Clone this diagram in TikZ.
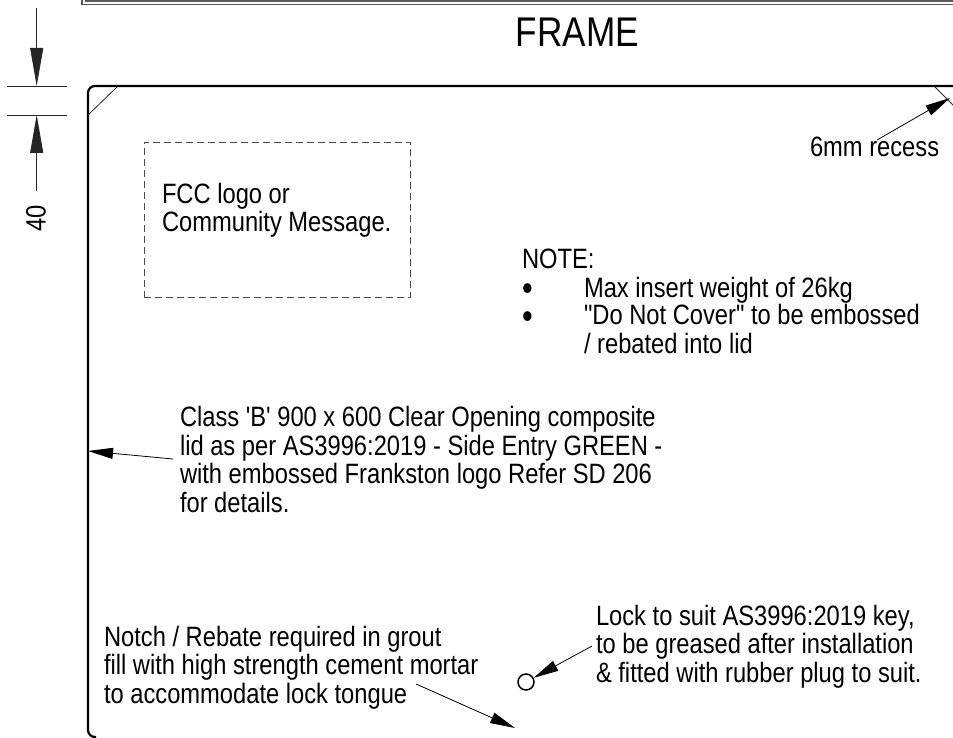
\documentclass[tikz,border=0pt]{standalone}
\usepackage{fontspec}
\setmainfont[FakeStretch=0.847,Ligatures=TeXOff]{Liberation Sans}
\usetikzlibrary{arrows.meta}
\tikzset{
  x=1pt,y=-1pt,
  lbl/.style={anchor=base west,inner sep=0pt,outer sep=0pt,align=left,font=\fontsize{28}{28.4}\selectfont,text=black},
  thick line/.style={line width=2.2pt,black},
  thin line/.style={line width=0.8pt,black!85},
  leader/.style={line width=0.8pt,black,-{Triangle[length=25pt,width=11pt]}},
  dimarrow/.style={line width=0.8pt,black!85,-{Triangle[length=38pt,width=13pt]}}
}
\begin{document}
\begin{tikzpicture}
\useasboundingbox (0,0) rectangle (953,738);
% top title block remnant
\draw[line width=1.3pt,black!65] (82,-5) -- (82,4.5) -- (960,4.5);
\draw[line width=1.3pt,black!65] (85.5,-5) -- (85.5,1) -- (960,1);
% frame
\draw[thick line,rounded corners=7pt] (960,86) -- (88,86) -- (88,737) -- (96,737);
\draw[thin line] (117,87) -- (88,115);
\draw[thin line] (935,87) -- (960,112);
% dimension
\coordinate (dimtopstart) at (36.7,8);
\coordinate (dimtoptip) at (36.7,86);
\coordinate (dimbotstart) at (36.7,191);
\coordinate (dimbottip) at (36.7,115);
\draw[thin line] (7,86) -- (67,86);
\draw[thin line] (7,115.5) -- (67,115.5);
\draw[dimarrow] (dimtopstart) -- (dimtoptip);
\draw[dimarrow] (dimbotstart) -- (dimbottip);
\node[lbl,anchor=center,rotate=90] (dimtext) at (36,218) {40};
% title
\node[anchor=base,inner sep=0pt,font=\fontsize{41.5}{44}\selectfont,text=black] (title) at (577.5,47) {FRAME};
% logo box
\node[draw=black!70,dashed,dash pattern=on 7pt off 4pt,line width=0.8pt,minimum width=266pt,minimum height=155pt,anchor=north west,inner sep=0pt] (logobox) at (144,142) {};
\node[lbl] (logotext) at (162,232) {FCC logo or\\Community Message.};
% recess
\node[lbl] (recess) at (810,157) {6mm recess};
\coordinate (recesstail) at (877,140);
\coordinate (recesstip) at (950,98);
\draw[leader] (recesstail) -- (recesstip);
% note
\node[lbl] (note) at (522,268) {NOTE:};
\node[lbl,font=\fontsize{36}{28}\selectfont] (bullets) at (522,328) {•\\•};
\node[lbl] (notea) at (584,297) {Max insert weight of 26kg};
\node[lbl] (noteb) at (584,353) {"Do Not Cover" to be embossed\\/ rebated into lid};
% class
\node[lbl] (classtext) at (180,512) {Class 'B' 900 x 600 Clear Opening composite\\lid as per AS3996:2019 - Side Entry GREEN -\\with embossed Frankston logo Refer SD 206\\for details.};
\coordinate (classtail) at (173,459);
\coordinate (classtip) at (88,451);
\draw[leader] (classtail) -- (classtip);
% notch
\node[lbl] (notch) at (104,703) {Notch / Rebate required in grout\\fill with high strength cement mortar\\to accommodate lock tongue};
\coordinate (notchtail) at (416,684);
\coordinate (notchtip) at (515,728);
\draw[leader] (notchtail) -- (notchtip);
% lock
\node[lbl] (locktext) at (596,682) {Lock to suit AS3996:2019 key,\\to be greased after installation\\\& fitted with rubber plug to suit.};
\node[draw=black,line width=1.5pt,circle,minimum size=16pt,inner sep=0pt] (lockhole) at (526,682) {};
\coordinate (locktail) at (592,646);
\draw[leader] (locktail) -- (lockhole);
\end{tikzpicture}
\end{document}
